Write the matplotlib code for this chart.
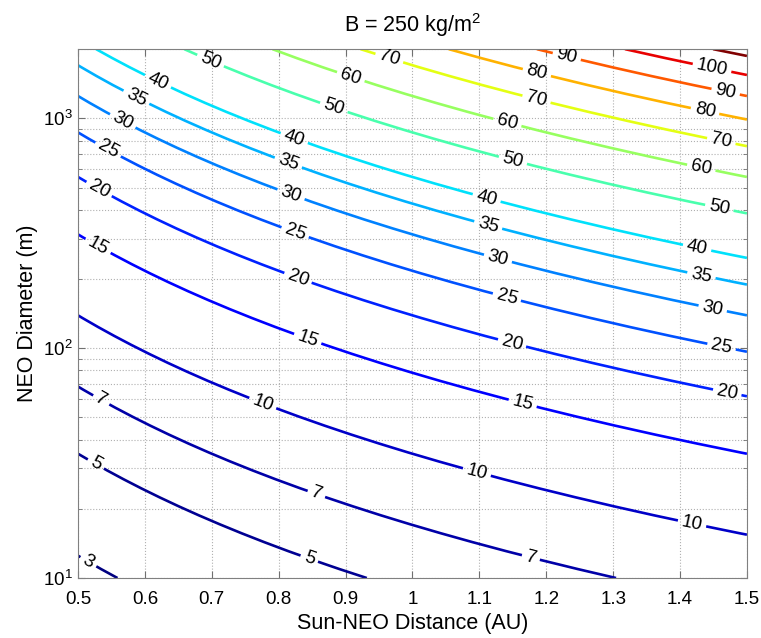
import numpy as np
import matplotlib.pyplot as plt
from matplotlib.colors import Normalize
from matplotlib.ticker import LogLocator, NullFormatter

plt.rcParams['font.family'] = ['Liberation Sans', 'DejaVu Sans']
plt.rcParams['mathtext.fontset'] = 'custom'
plt.rcParams['mathtext.rm'] = 'Liberation Sans'

# contour levels drawn on the map
levels = [3, 5, 7, 10, 15, 20, 25, 30, 35, 40, 50, 60, 70, 80, 90, 100, 110]

# sun distance (AU) and NEO diameter (m) grids
dist = np.linspace(0.5, 1.5, 41)
diam = np.logspace(1, np.log10(2000), 60)

# field scales with distance and the square root of the diameter (B = 250 kg/m^2)
K = 1.697
R, D = np.meshgrid(dist, diam)
Z = K * R * np.sqrt(D)

# label anchors (distance, diameter) for each labelled line
label_pos = [
    (0.515, 11.7),
    (0.525, 30.7), (0.846, 12.2),
    (0.534, 59), (0.857, 23.5), (1.178, 12.6),
    (0.775, 56.5), (1.096, 28.7), (1.418, 17.3),
    (0.528, 272), (0.842, 107), (1.164, 56.5),
    (0.528, 472), (0.828, 199), (1.148, 103), (1.470, 63),
    (0.542, 705), (0.823, 310), (1.140, 162), (1.461, 98),
    (0.565, 950), (0.816, 446), (1.127, 241), (1.448, 145),
    (0.585, 1197), (0.814, 637), (1.112, 333), (1.431, 201),
    (0.618, 1419), (0.821, 787), (1.110, 440), (1.425, 269),
    (0.697, 1750), (0.881, 1084), (1.149, 637), (1.458, 398),
    (0.906, 1462), (1.140, 914), (1.431, 594),
    (0.963, 1733), (1.185, 1197), (1.461, 778),
    (1.185, 1540), (1.436, 1031),
    (1.230, 1824), (1.468, 1297),
    (1.448, 1667),
]

colors = plt.cm.jet(Normalize(3, 110)(levels))

fig = plt.figure(figsize=(7.61, 6.38), dpi=100)
ax = fig.add_axes([0.1025, 0.094, 0.879, 0.829])

cs = ax.contour(R, D, Z, levels=levels, colors=colors, linewidths=1.9)
ax.set_yscale('log')
ax.set_xlim(0.5, 1.5)
ax.set_ylim(10, 2000)

txts = ax.clabel(cs, manual=label_pos, inline=True, fmt='%g', fontsize=13.5, inline_spacing=4)
for t in txts:
    t.set_color('black')

ax.set_xticks(np.arange(0.5, 1.51, 0.1))
ax.set_xticklabels(['0.5', '0.6', '0.7', '0.8', '0.9', '1', '1.1', '1.2', '1.3', '1.4', '1.5'])
ax.yaxis.set_minor_locator(LogLocator(base=10, subs=np.arange(2, 10)))
ax.yaxis.set_minor_formatter(NullFormatter())

ax.grid(True, which='major', linestyle=':', color='#b0b0b0', linewidth=0.8)
ax.grid(True, which='minor', axis='y', linestyle=':', color='#b0b0b0', linewidth=0.8)
ax.tick_params(which='both', direction='in', top=True, right=True, labelsize=13.5,
               color='#707070')
ax.tick_params(which='major', length=5)
ax.tick_params(which='minor', length=3)
ax.tick_params(axis='x', pad=9)
ax.tick_params(axis='y', pad=4)
for s in ax.spines.values():
    s.set_color('#808080')

ax.set_xlabel('Sun-NEO Distance (AU)', fontsize=15.5, labelpad=4)
ax.set_ylabel('NEO Diameter (m)', fontsize=15.5, labelpad=3)
ax.set_title('B = 250 kg/m$^2$', fontsize=15.5, pad=12)

fig.savefig('out.png', dpi=100)
